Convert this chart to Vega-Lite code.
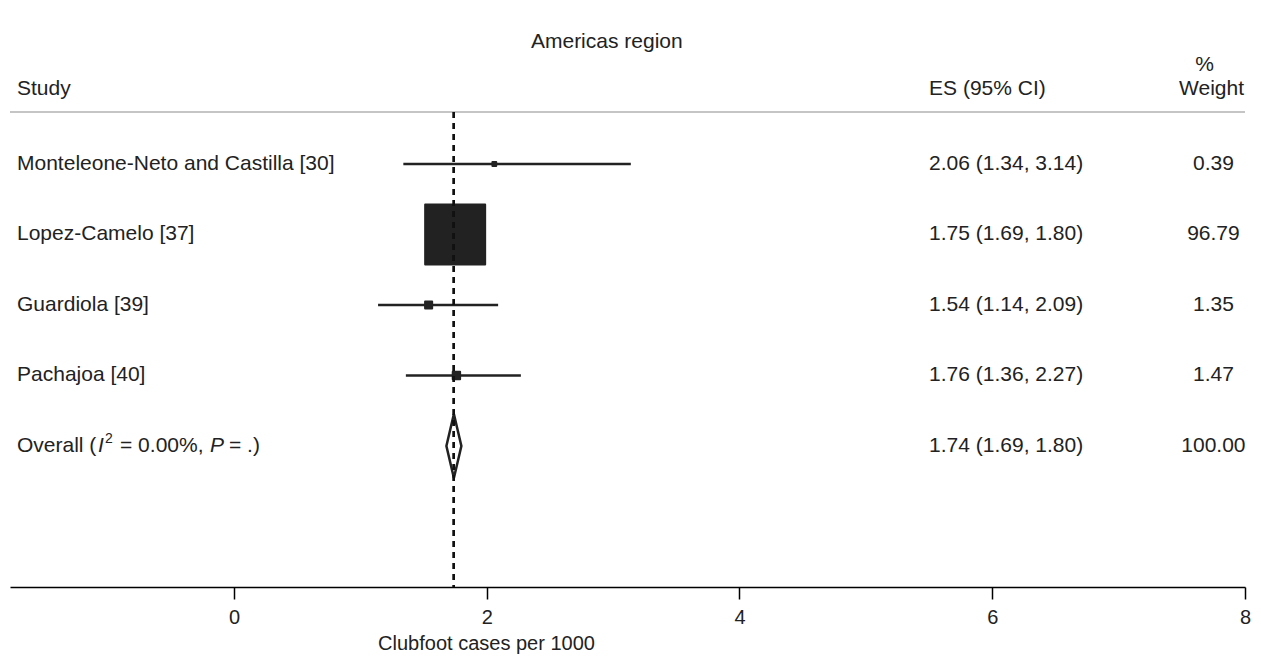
{
  "$schema": "https://vega.github.io/schema/vega-lite/v6.json",
  "width": 1235,
  "height": 587,
  "autosize": "none",
  "padding": {"left": 10, "top": 0, "right": 16, "bottom": 71},
  "background": "white",
  "config": {
    "view": {"stroke": null},
    "text": {"font": "Liberation Sans", "fontSize": 21, "color": "#222222"},
    "axis": {"labelFont": "Liberation Sans", "titleFont": "Liberation Sans"}
  },
  "datasets": {
    "studies": [
      {"study": "Monteleone-Neto and Castilla [30]", "type": "study", "es": 2.06, "lo": 1.34, "hi": 3.14, "ci": "2.06 (1.34, 3.14)", "weight": 0.39},
      {"study": "Lopez-Camelo [37]", "type": "study", "es": 1.75, "lo": 1.69, "hi": 1.80, "ci": "1.75 (1.69, 1.80)", "weight": 96.79},
      {"study": "Guardiola [39]", "type": "study", "es": 1.54, "lo": 1.14, "hi": 2.09, "ci": "1.54 (1.14, 2.09)", "weight": 1.35},
      {"study": "Pachajoa [40]", "type": "study", "es": 1.76, "lo": 1.36, "hi": 2.27, "ci": "1.76 (1.36, 2.27)", "weight": 1.47},
      {"study": "Overall", "type": "overall", "es": 1.74, "lo": 1.69, "hi": 1.80, "ci": "1.74 (1.69, 1.80)", "weight": 100.00}
    ]
  },
  "data": {"name": "studies"},
  "transform": [{"window": [{"op": "row_number", "as": "row"}]}],
  "layer": [
    {
      "mark": {"type": "rule", "color": "#c4c4c4", "strokeWidth": 1.5},
      "encoding": {
        "x": {"datum": -1.7725, "type": "quantitative", "scale": {"domain": [-1.7725, 8], "nice": false, "zero": false},
              "axis": {"values": [0, 2, 4, 6, 8], "format": "d", "grid": false, "labelFlush": false, "labelOverlap": false, "domainColor": "#000000", "domainWidth": 1.5, "tickColor": "#000000", "tickWidth": 1.5, "tickSize": 12, "labelFontSize": 20, "labelColor": "#222222", "labelPadding": 8, "title": "Clubfoot cases per 1000", "titleFontSize": 20, "titleFontWeight": "normal", "titleColor": "#222222", "titleX": 476, "titlePadding": 6}},
        "x2": {"datum": 8},
        "y": {"datum": 0.2624, "type": "quantitative", "scale": {"domain": [-1.3262, 7], "reverse": true, "nice": false, "zero": false}, "axis": null}
      }
    },
    {
      "transform": [{"filter": "datum.type === 'study'"}],
      "mark": {"type": "rule", "color": "#222222", "strokeWidth": 2.5},
      "encoding": {
        "x": {"field": "lo", "type": "quantitative"},
        "x2": {"field": "hi"},
        "y": {"field": "row", "type": "quantitative"}
      }
    },
    {
      "transform": [{"filter": "datum.type === 'study'"}],
      "mark": {"type": "point", "shape": "square", "filled": true, "color": "#222222", "stroke": "#222222", "strokeWidth": 2, "strokeJoin": "round", "opacity": 1},
      "encoding": {
        "x": {"field": "es", "type": "quantitative"},
        "y": {"field": "row", "type": "quantitative"},
        "size": {"field": "weight", "type": "quantitative", "scale": {"type": "linear", "domain": [0, 100], "range": [0, 3720]}, "legend": null}
      }
    },
    {
      "transform": [{"filter": "datum.type === 'overall'"}],
      "mark": {"type": "point", "shape": "M-0.234,0L0,-1L0.234,0L0,1Z", "filled": true, "fill": "#ffffff", "stroke": "#222222", "strokeWidth": 2.5, "size": 4096, "opacity": 1},
      "encoding": {
        "x": {"field": "es", "type": "quantitative"},
        "y": {"field": "row", "type": "quantitative"}
      }
    },
    {
      "mark": {"type": "rule", "color": "#111111", "strokeWidth": 2.2, "strokeDash": [6, 5]},
      "encoding": {
        "x": {"datum": 1.74, "type": "quantitative"},
        "y": {"datum": 0.2624, "type": "quantitative"},
        "y2": {"datum": 7}
      }
    },
    {
      "transform": [{"filter": "datum.type === 'study'"}],
      "mark": {"type": "text", "align": "left", "baseline": "middle"},
      "encoding": {
        "x": {"datum": -1.717, "type": "quantitative"},
        "y": {"field": "row", "type": "quantitative"},
        "text": {"field": "study"}
      }
    },
    {
      "mark": {"type": "text", "align": "left", "baseline": "middle"},
      "encoding": {
        "x": {"datum": 5.5, "type": "quantitative"},
        "y": {"field": "row", "type": "quantitative"},
        "text": {"field": "ci"}
      }
    },
    {
      "mark": {"type": "text", "align": "center", "baseline": "middle"},
      "encoding": {
        "x": {"datum": 7.75, "type": "quantitative"},
        "y": {"field": "row", "type": "quantitative"},
        "text": {"field": "weight", "format": ".2f"}
      }
    },
    {
      "transform": [{"filter": "datum.type === 'overall'"}],
      "layer": [
        {"mark": {"type": "text", "align": "left", "baseline": "middle", "text": "Overall (", "dx": 0}},
        {"mark": {"type": "text", "align": "left", "baseline": "middle", "text": "I", "fontStyle": "italic", "dx": 81}},
        {"mark": {"type": "text", "align": "left", "baseline": "middle", "text": "2", "fontSize": 14, "dx": 88, "dy": -7}},
        {"mark": {"type": "text", "align": "left", "baseline": "middle", "text": "= 0.00%,", "dx": 103}},
        {"mark": {"type": "text", "align": "left", "baseline": "middle", "text": "P", "fontStyle": "italic", "dx": 193}},
        {"mark": {"type": "text", "align": "left", "baseline": "middle", "text": "= .)", "dx": 212}}
      ],
      "encoding": {
        "x": {"datum": -1.717, "type": "quantitative"},
        "y": {"field": "row", "type": "quantitative"}
      }
    },
    {
      "data": {"values": [{"label": "Americas region"}]},
      "mark": {"type": "text", "align": "center", "baseline": "middle"},
      "encoding": {
        "x": {"datum": 2.95, "type": "quantitative"},
        "y": {"datum": -0.7305, "type": "quantitative"},
        "text": {"field": "label"}
      }
    },
    {
      "data": {"values": [{"label": "Study"}]},
      "mark": {"type": "text", "align": "left", "baseline": "middle"},
      "encoding": {
        "x": {"datum": -1.717, "type": "quantitative"},
        "y": {"datum": -0.0638, "type": "quantitative"},
        "text": {"field": "label"}
      }
    },
    {
      "data": {"values": [{"label": "ES (95% CI)"}]},
      "mark": {"type": "text", "align": "left", "baseline": "middle"},
      "encoding": {
        "x": {"datum": 5.5, "type": "quantitative"},
        "y": {"datum": -0.0638, "type": "quantitative"},
        "text": {"field": "label"}
      }
    },
    {
      "data": {"values": [{"label": "%"}]},
      "mark": {"type": "text", "align": "center", "baseline": "middle"},
      "encoding": {
        "x": {"datum": 7.68, "type": "quantitative"},
        "y": {"datum": -0.4, "type": "quantitative"},
        "text": {"field": "label"}
      }
    },
    {
      "data": {"values": [{"label": "Weight"}]},
      "mark": {"type": "text", "align": "center", "baseline": "middle"},
      "encoding": {
        "x": {"datum": 7.735, "type": "quantitative"},
        "y": {"datum": -0.0638, "type": "quantitative"},
        "text": {"field": "label"}
      }
    }
  ]
}
